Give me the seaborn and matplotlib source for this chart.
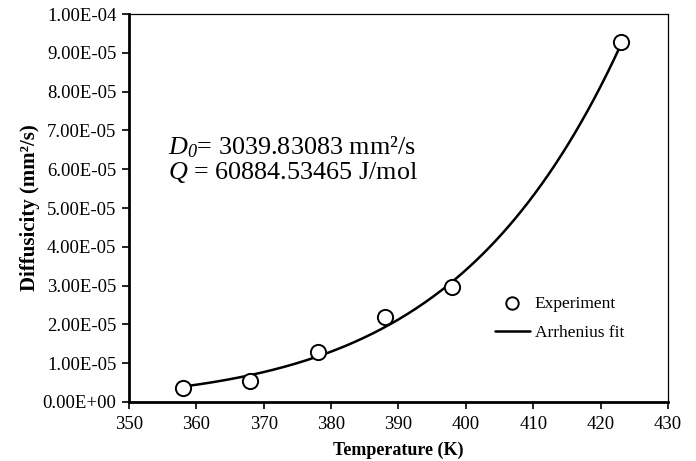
import numpy as np
import pandas as pd
import matplotlib
matplotlib.use("Agg")
import matplotlib.pyplot as plt
import seaborn as sns
from matplotlib.ticker import FuncFormatter, MultipleLocator

# Data
temperature = [358, 368, 378, 388, 398, 423]
diffusivity = [3.6e-6, 5.4e-6, 1.29e-5, 2.19e-5, 2.96e-5, 9.28e-5]
D0 = 3039.83083
Q = 60884.53465
R = 8.314

sns.set_theme(style="ticks")
plt.rcParams['font.family'] = ['Liberation Serif', 'DejaVu Serif']
plt.rcParams['mathtext.fontset'] = 'custom'
plt.rcParams['mathtext.rm'] = 'Liberation Serif'
plt.rcParams['mathtext.it'] = 'Liberation Serif:italic'
plt.rcParams['mathtext.sf'] = 'Liberation Serif:italic'
plt.rcParams['text.color'] = 'black'
plt.rcParams['axes.labelcolor'] = 'black'

fig = plt.figure(figsize=(6.96, 4.61), dpi=100)
ax = fig.add_axes([0.1853, 0.128, 0.9598 - 0.1853, 0.9696 - 0.128])

T_fit = np.linspace(temperature[0], temperature[-1], 200)
fit_df = pd.DataFrame({"T": T_fit, "D": D0 * np.exp(-Q / (R * T_fit))})
exp_df = pd.DataFrame({"T": temperature, "D": diffusivity})

sns.lineplot(data=fit_df, x="T", y="D", ax=ax, color="black", lw=1.8,
             label="Arrhenius fit", zorder=2)
sns.scatterplot(data=exp_df, x="T", y="D", ax=ax, marker="o", s=120,
                facecolor="white", edgecolor="black", linewidth=1.4,
                label="Experiment", zorder=3)

ax.set_xlim(350, 430)
ax.set_ylim(0, 1e-4)
ax.xaxis.set_major_locator(MultipleLocator(10))
ax.yaxis.set_major_locator(MultipleLocator(1e-5))
ax.yaxis.set_major_formatter(FuncFormatter(lambda v, p: f"{v:.2E}"))
ax.tick_params(axis="both", direction="out", length=5, width=1.2, labelsize=13.5,
               colors="black")
ax.tick_params(axis="x", pad=5)
ax.tick_params(axis="y", pad=4)

for side in ["left", "bottom"]:
    ax.spines[side].set_linewidth(2.0)
for side in ["top", "right"]:
    ax.spines[side].set_linewidth(0.9)
for s in ax.spines.values():
    s.set_color("black")

ax.set_xlabel("Temperature (K)", fontsize=13, fontweight="bold", labelpad=6)
ax.set_ylabel("Diffusicity (mm²/s)", fontsize=15, fontweight="bold", labelpad=2)

ax.text(0.072, 0.657, r"$D_{\mathsf{0}}$= 3039.83083 mm²/s", transform=ax.transAxes,
        fontsize=18.8, va="center", ha="left")
ax.text(0.072, 0.592, r"$Q$ = 60884.53465 J/mol", transform=ax.transAxes,
        fontsize=18.8, va="center", ha="left")

handles, labels = ax.get_legend_handles_labels()
order = [labels.index("Experiment"), labels.index("Arrhenius fit")]
leg = ax.legend([handles[i] for i in order], [labels[i] for i in order],
                loc="upper left", bbox_to_anchor=(0.65, 0.315), frameon=False,
                fontsize=12.5, handlelength=2.0, handletextpad=0.3, labelspacing=0.75)
for h in leg.legend_handles:
    try:
        h.set_sizes([80])
    except Exception:
        pass

fig.savefig("out.png", dpi=100)
